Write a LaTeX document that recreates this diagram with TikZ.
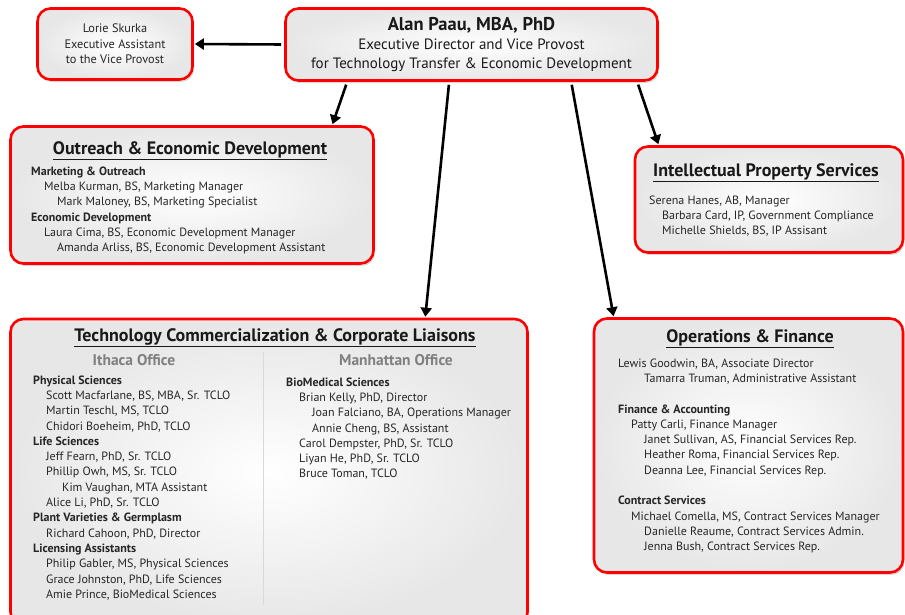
\documentclass[tikz,border=0pt]{standalone}
\usepackage{fontspec}
\setmainfont{PT Sans}
\usetikzlibrary{arrows.meta,shadows}

\tikzset{
  box/.style={draw=red, line width=2.6pt, rounded corners=13pt,
    inner color=white, outer color=gray!19,
    drop shadow={opacity=0.3, shadow xshift=1.5pt, shadow yshift=-2.5pt}},
  link/.style={line width=2.6pt, -{Triangle[width=11pt,length=9pt]},
    shorten <=3pt, shorten >=1pt},
  heading/.style={anchor=base, inner sep=0pt, text=black!90,
    font=\bfseries\fontsize{18}{20}\selectfont},
  office/.style={anchor=base, inner sep=0pt, text=gray,
    font=\bfseries\fontsize{15.5}{18}\selectfont},
  staff/.style={anchor=north west, yshift=8.6pt, align=left, inner sep=0pt,
    text=black!85, font=\fontsize{12}{15.3}\selectfont}
}
\newcommand{\indA}{\hspace*{13pt}}
\newcommand{\indB}{\hspace*{26pt}}

\begin{document}
\begin{tikzpicture}[x=1pt,y=-1pt]
  \useasboundingbox (0,0) rectangle (905,614);
  % Top boxes
  \node[box, minimum width=155pt, minimum height=71pt, align=center,
    font=\fontsize{12.3}{15.5}\selectfont, text=black!85] (lorie) at (115,44)
    {Lorie Skurka\\Executive Assistant\\to the Vice Provost};
  \node[box, minimum width=372pt, minimum height=72pt, align=center,
    text=black!90, font=\fontsize{15}{18.5}\selectfont] (alan) at (471.5,44.5)
    {{\bfseries\fontsize{18.5}{20}\selectfont Alan Paau, MBA, PhD}\\[1pt]
     Executive Director and Vice Provost\\
     for Technology Transfer \& Economic Development};
  % Department boxes
  \node[box, minimum width=363pt, minimum height=137pt] (outreach) at (192,195) {};
  \node[box, minimum width=268pt, minimum height=106pt] (ip) at (769,199.5) {};
  \node[box, minimum width=517pt, minimum height=306pt] (tech) at (269,472) {};
  \node[box, minimum width=309pt, minimum height=254pt] (ops) at (748.5,445.5) {};
  % Connectors
  \draw[link] (alan.west) -- (lorie.east);
  \draw[link] ([xshift=63pt]alan.south west) -- ([xshift=323pt]outreach.north west);
  \draw[link] ([xshift=165pt]alan.south west) -- ([xshift=416pt]tech.north west);
  \draw[link] ([xshift=287pt]alan.south west) -- ([xshift=21pt]ops.north west);
  \draw[link] ([xshift=353pt]alan.south west) -- ([xshift=25pt]ip.north west);
  % Outreach & Economic Development
  \node[heading] (outreachtitle) at (190,154) {\underline{Outreach \& Economic Development}};
  \node[staff] (outreachstaff) at (31,175) {\textbf{Marketing \& Outreach}\\
    \indA Melba Kurman, BS, Marketing Manager\\
    \indB Mark Maloney, BS, Marketing Specialist\\
    \textbf{Economic Development}\\
    \indA Laura Cima, BS, Economic Development Manager\\
    \indB Amanda Arliss, BS, Economic Development Assistant};
  % Intellectual Property Services
  \node[heading] (iptitle) at (766,176) {\underline{Intellectual Property Services}};
  \node[staff] (ipstaff) at (649,204) {Serena Hanes, AB, Manager\\
    \indA Barbara Card, IP, Government Compliance\\
    \indA Michelle Shields, BS, IP Assisant};
  % Technology Commercialization
  \node[heading] (techtitle) at (275,341) {\underline{Technology Commercialization \& Corporate Liaisons}};
  \node[office] (ithaca) at (134,365) {Ithaca Office};
  \node[office] (manhattan) at (396,365) {Manhattan Office};
  \draw[gray!30, line width=1pt] (263,352) -- (263,605);
  \node[staff] (ithacastaff) at (33,384) {\textbf{Physical Sciences}\\
    \indA Scott Macfarlane, BS, MBA, Sr. TCLO\\
    \indA Martin Teschl, MS, TCLO\\
    \indA Chidori Boeheim, PhD, TCLO\\
    \textbf{Life Sciences}\\
    \indA Jeff Fearn, PhD, Sr. TCLO\\
    \indA Phillip Owh, MS, Sr. TCLO\\
    \hspace*{29pt}Kim Vaughan, MTA Assistant\\
    \indA Alice Li, PhD, Sr. TCLO\\
    \textbf{Plant Varieties \& Germplasm}\\
    \indA Richard Cahoon, PhD, Director\\
    \textbf{Licensing Assistants}\\
    \indA Philip Gabler, MS, Physical Sciences\\
    \indA Grace Johnston, PhD, Life Sciences\\
    \indA Amie Prince, BioMedical Sciences};
  \node[staff] (manhattanstaff) at (286,386) {\textbf{BioMedical Sciences}\\
    \indA Brian Kelly, PhD, Director\\
    \indB Joan Falciano, BA, Operations Manager\\
    \indB Annie Cheng, BS, Assistant\\
    \indA Carol Dempster, PhD, Sr. TCLO\\
    \indA Liyan He, PhD, Sr. TCLO\\
    \indA Bruce Toman, TCLO};
  % Operations & Finance
  \node[heading] (opstitle) at (750,342) {\underline{Operations \& Finance}};
  \node[staff] (opsstaff) at (618,367) {Lewis Goodwin, BA, Associate Director\\
    \indB Tamarra Truman, Administrative Assistant\\[15.3pt]
    \textbf{Finance \& Accounting}\\
    \indA Patty Carli, Finance Manager\\
    \indB Janet Sullivan, AS, Financial Services Rep.\\
    \indB Heather Roma, Financial Services Rep.\\
    \indB Deanna Lee, Financial Services Rep.\\[15.3pt]
    \textbf{Contract Services}\\
    \indA Michael Comella, MS, Contract Services Manager\\
    \indB Danielle Reaume, Contract Services Admin.\\
    \indB Jenna Bush, Contract Services Rep.};
\end{tikzpicture}
\end{document}
